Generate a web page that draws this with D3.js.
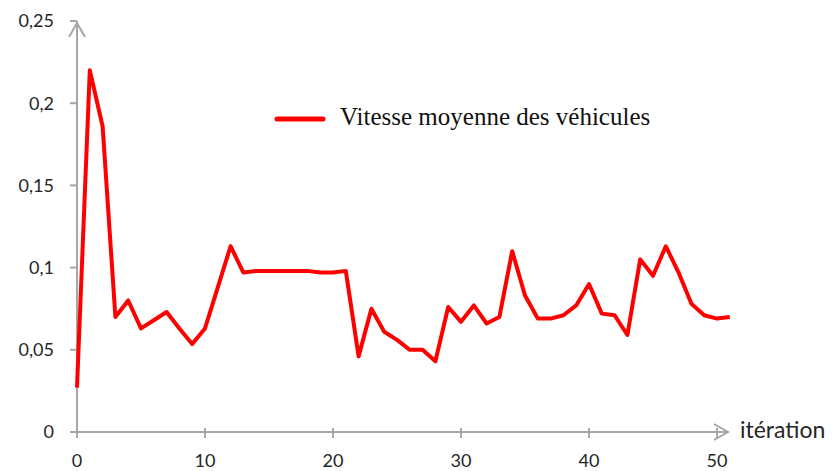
<!DOCTYPE html>
<html>
<head>
<meta charset="utf-8">
<style>
  body { margin: 0; background: #fff; }
  .tick-label { font: 18px Lato, "Open Sans", sans-serif; fill: #262626; }
  .legend-label { font: 25px "Liberation Serif", "Times New Roman", serif; fill: #111; }
</style>
</head>
<body>
<div id="chart"></div>
<script src="https://cdn.jsdelivr.net/npm/d3@7"></script>
<script>
    const width = 834;
    const height = 471;

    // vitesse moyenne par itération (0..51)
    const iterations = d3.range(0, 52);
    const vitesse = [
        0.027, 0.220, 0.186, 0.070, 0.080, 0.063, 0.068, 0.073, 0.063, 0.0535,
        0.063, 0.088, 0.113, 0.097, 0.098, 0.098, 0.098, 0.098, 0.098, 0.097,
        0.097, 0.098, 0.046, 0.075, 0.061, 0.056, 0.050, 0.050, 0.043, 0.076,
        0.067, 0.077, 0.066, 0.070, 0.110, 0.083, 0.069, 0.069, 0.071, 0.077,
        0.090, 0.072, 0.071, 0.059, 0.105, 0.095, 0.113, 0.097, 0.078, 0.071,
        0.069, 0.070
    ];
    const xTicks = [0, 10, 20, 30, 40, 50];
    const yTicks = [0, 0.05, 0.1, 0.15, 0.2, 0.25];
    const seriesName = "Vitesse moyenne des véhicules";
    const xTitle = "itération";

    const x = d3.scaleLinear().domain([0, 50]).range([77, 717]);
    const y = d3.scaleLinear().domain([0, 0.25]).range([432, 21]);

    const svg = d3.select("#chart")
        .append("svg")
            .attr("width", width)
            .attr("height", height);

    const axisColor = "#a6a6a6";
    const fmt = d => d === 0 ? "0" : String(d).replace(".", ",");

    // y axis
    svg.append("line")
        .attr("x1", x(0)).attr("x2", x(0))
        .attr("y1", y(0)).attr("y2", y(0.25))
        .attr("stroke", axisColor).attr("stroke-width", 2);
    svg.append("path")
        .attr("d", `M${x(0) - 8},${y(0.25) + 16} L${x(0)},${y(0.25) + 2} L${x(0) + 8},${y(0.25) + 16}`)
        .attr("fill", "none").attr("stroke", axisColor).attr("stroke-width", 2);

    svg.selectAll(".ytick")
        .data(yTicks)
        .enter().append("line")
            .attr("x1", x(0) - 7).attr("x2", x(0))
            .attr("y1", d => y(d)).attr("y2", d => y(d))
            .attr("stroke", axisColor).attr("stroke-width", 2);

    svg.selectAll(".ylabel")
        .data(yTicks)
        .enter().append("text")
            .attr("class", "tick-label")
            .attr("x", 54)
            .attr("y", d => y(d))
            .attr("dy", "0.35em")
            .attr("text-anchor", "end")
            .text(fmt);

    // x axis
    svg.append("line")
        .attr("x1", x(0)).attr("x2", 728)
        .attr("y1", y(0)).attr("y2", y(0))
        .attr("stroke", axisColor).attr("stroke-width", 2);
    svg.append("path")
        .attr("d", `M714,${y(0) - 8} L728,${y(0)} L714,${y(0) + 8}`)
        .attr("fill", "none").attr("stroke", axisColor).attr("stroke-width", 2);

    svg.selectAll(".xtick")
        .data(xTicks)
        .enter().append("line")
            .attr("x1", d => x(d)).attr("x2", d => x(d))
            .attr("y1", y(0) - 4).attr("y2", y(0) + 6)
            .attr("stroke", axisColor).attr("stroke-width", 2);

    svg.selectAll(".xlabel")
        .data(xTicks)
        .enter().append("text")
            .attr("class", "tick-label")
            .attr("x", d => x(d))
            .attr("y", 467)
            .attr("text-anchor", "middle")
            .text(d => d);

    svg.append("text")
        .attr("class", "tick-label")
        .style("font-size", "23px")
        .attr("x", 740)
        .attr("y", 438)
        .text(xTitle);

    // series
    const line = d3.line()
        .x((d, i) => x(iterations[i]))
        .y(d => y(d));

    svg.append("path")
        .datum(vitesse)
        .attr("d", line)
        .attr("fill", "none")
        .attr("stroke", "#ff0000")
        .attr("stroke-width", 4)
        .attr("stroke-linejoin", "round");

    // legend
    svg.append("line")
        .attr("x1", 277).attr("x2", 323)
        .attr("y1", 119).attr("y2", 119)
        .attr("stroke", "#ff0000").attr("stroke-width", 5)
        .attr("stroke-linecap", "round");
    svg.append("text")
        .attr("class", "legend-label")
        .attr("x", 340)
        .attr("y", 125)
        .text(seriesName);
</script>
</body>
</html>
